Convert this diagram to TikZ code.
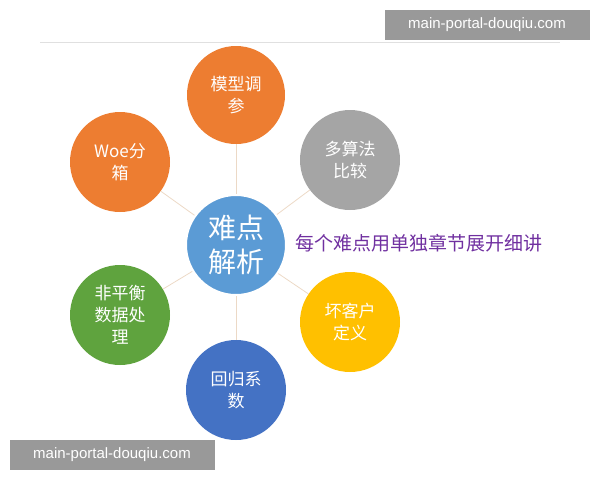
\documentclass[tikz,border=0pt]{standalone}
\usepackage{fontspec}
\newfontfamily\cjk{Noto Sans CJK SC}
\setsansfont{Liberation Sans}
\definecolor{cor}{HTML}{ED7D31}
\definecolor{cgr}{HTML}{A5A5A5}
\definecolor{cye}{HTML}{FFC000}
\definecolor{cbl}{HTML}{4472C4}
\definecolor{cgn}{HTML}{5FA33E}
\definecolor{ccn}{HTML}{5B9BD5}
\definecolor{cpu}{HTML}{7030A0}
\begin{document}
\begin{tikzpicture}[x=1pt,y=-1pt,
 ball/.style={circle,minimum size=100pt,inner sep=0pt,text=white,font=\cjk\fontsize{17}{22}\selectfont,align=center,text width=70pt},
 link/.style={draw=brown!30,line width=0.8pt},
 wm/.style={fill=black!40,text=white,font=\sffamily\fontsize{15}{18}\selectfont,inner sep=0pt,minimum height=30pt}]
\useasboundingbox (0,0) rectangle (600,480);
\draw[black!12] (40,42) -- (560,42);
\coordinate (c0) at (236,245);
\node[ball,fill=cor,minimum size=98pt] (t) at (236,95) {模型调\\参};
\node[ball,fill=cgr] (ur) at (350,160) {多算法\\比较};
\node[ball,fill=cye] (lr) at (350,322) {坏客户\\定义};
\node[ball,fill=cbl] (b) at (236,390) {回归系\\数};
\node[ball,fill=cgn] (ll) at (120,315) {非平衡\\数据处\\理};
\node[ball,fill=cor] (ul) at (120,162) {Woe分\\箱};
\foreach \n in {t,ur,lr,b,ll,ul} \draw[link] (c0) -- (\n);
\node[ball,fill=ccn,draw=white,line width=2pt,font=\cjk\fontsize{28}{34}\selectfont] (c) at (c0) {难点\\解析};
\node[font=\cjk\fontsize{19}{22}\selectfont,text=cpu] (note) at (419,243) {每个难点用单独章节展开细讲};
\node[wm,minimum width=205pt] (w1) at (487,25) {main-portal-douqiu.com};
\node[wm,minimum width=205pt] (w2) at (112,455) {main-portal-douqiu.com};
\end{tikzpicture}
\end{document}
